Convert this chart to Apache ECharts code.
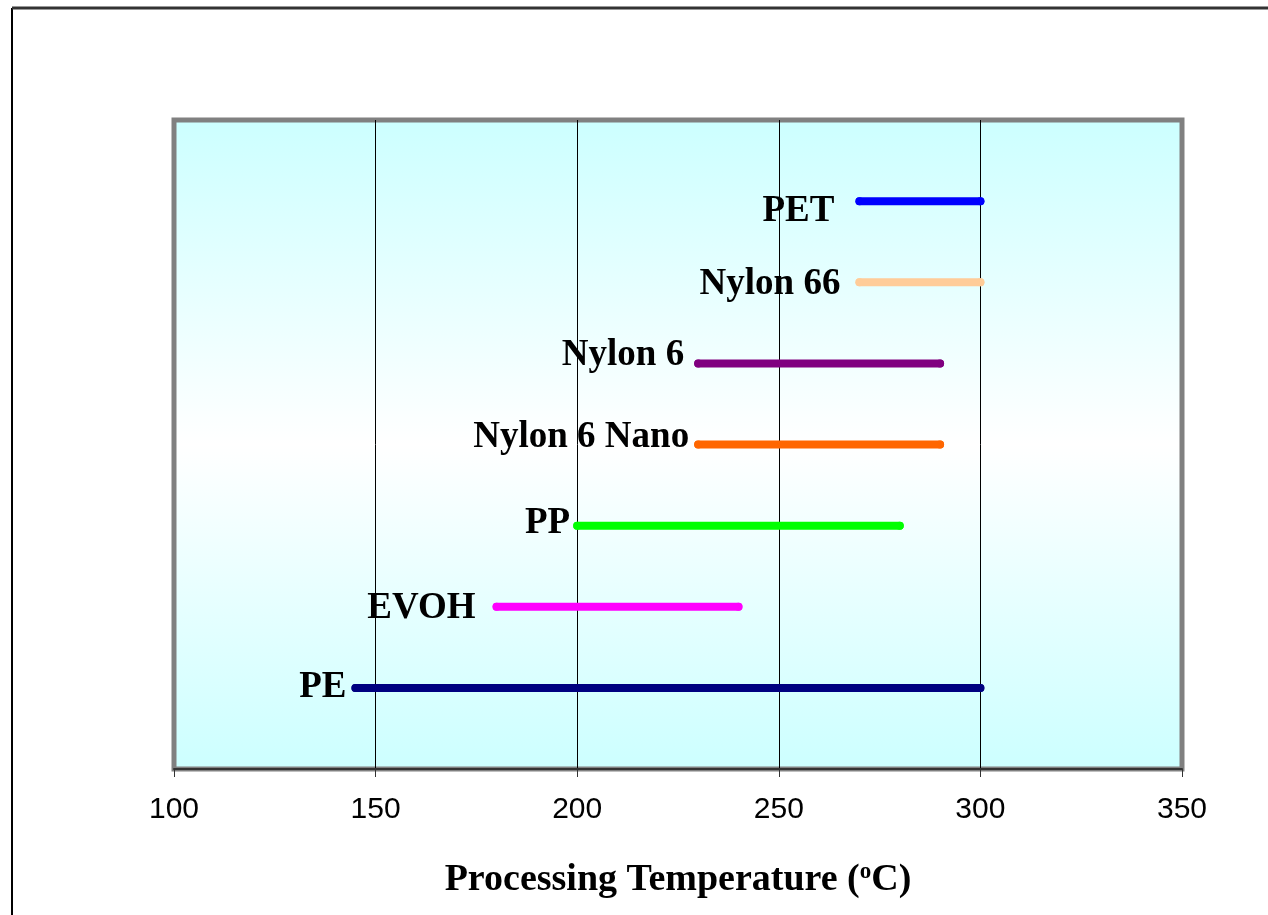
<!DOCTYPE html>
<html>
<head>
<meta charset="utf-8">
<title>Processing Temperature</title>
<script src="https://cdn.jsdelivr.net/npm/echarts@6/dist/echarts.min.js"></script>
<style>
  html, body { margin: 0; padding: 0; background: #fff; }
  #main { width: 1268px; height: 915px; }
</style>
</head>
<body>
<div id="main"></div>
<script>
// 材料及加工温度范围 (°C)
var materials = ['PE', 'EVOH', 'PP', 'Nylon 6 Nano', 'Nylon 6', 'Nylon 66', 'PET'];
var tempLow  = [145, 180, 200, 230, 230, 270, 270];
var tempHigh = [300, 240, 280, 290, 290, 300, 300];
var rowPos   = [1, 2, 3, 4, 5, 6, 7];
var lineColors = ['#000080', '#FF00FF', '#00FF00', '#FF6600', '#800080', '#FFCC99', '#0000FF'];
var xTicks = [100, 150, 200, 250, 300, 350];

// 标签微调（像原图那样手动拖过的标签）
var labelNudge = {
    'PE': [5, 0],
    'EVOH': [-7, 2],
    'PP': [7, -2],
    'Nylon 6 Nano': [5, -7],
    'Nylon 6': [0, -8],
    'Nylon 66': [-5, 2],
    'PET': [-11, 10]
};

var series = materials.map(function (name, i) {
    return {
        name: name,
        type: 'line',
        symbol: 'circle',
        symbolSize: 8,
        itemStyle: { color: lineColors[i] },
        lineStyle: { color: lineColors[i], width: 8, cap: 'round' },
        label: {
            show: true,
            position: 'left',
            distance: 10,
            offset: labelNudge[name],
            fontFamily: 'Liberation Serif',
            fontWeight: 'bold',
            fontSize: 37,
            color: '#000',
            formatter: function (p) {
                return p.dataIndex === 0 ? p.seriesName : '';
            }
        },
        emphasis: { disabled: true },
        data: [[tempLow[i], rowPos[i]], [tempHigh[i], rowPos[i]]]
    };
});

var option = {
    animation: false,
    grid: {
        left: 174,
        right: 86,
        top: 120,
        bottom: 146,
        show: true,
        borderColor: '#808080',
        borderWidth: 5,
        backgroundColor: {
            type: 'linear', x: 0, y: 0, x2: 0, y2: 1,
            colorStops: [
                { offset: 0, color: '#CCFFFF' },
                { offset: 0.5, color: '#FFFFFF' },
                { offset: 1, color: '#CCFFFF' }
            ]
        }
    },
    xAxis: {
        type: 'value',
        min: xTicks[0],
        max: xTicks[xTicks.length - 1],
        interval: 50,
        name: 'Processing Temperature ({sup|o}C)',
        nameLocation: 'middle',
        nameGap: 92,
        nameTextStyle: {
            fontFamily: 'Liberation Serif',
            fontWeight: 'bold',
            fontSize: 38,
            color: '#000',
            rich: {
                sup: {
                    fontFamily: 'Liberation Serif',
                    fontWeight: 'bold',
                    fontSize: 23,
                    verticalAlign: 'top',
                    padding: [0, 0, 16, 0]
                }
            }
        },
        axisLine: { show: true, lineStyle: { color: '#333', width: 2 } },
        axisTick: { show: true, length: 8, lineStyle: { color: '#333', width: 1 } },
        axisLabel: {
            margin: 26,
            fontFamily: 'Liberation Sans',
            fontSize: 30,
            color: '#000'
        },
        splitLine: {
            show: true,
            showMinLine: false,
            showMaxLine: false,
            lineStyle: { color: '#000', width: 1 }
        }
    },
    yAxis: {
        type: 'value',
        min: 0,
        max: 8,
        show: false
    },
    graphic: [
        { type: 'line', shape: { x1: 12, y1: 8, x2: 12, y2: 915 }, style: { stroke: '#000', lineWidth: 2 } },
        { type: 'line', shape: { x1: 12, y1: 8, x2: 1268, y2: 8 }, style: { stroke: '#333', lineWidth: 3 } }
    ],
    series: series
};

var myChart = echarts.init(document.getElementById('main'));
myChart.setOption(option);
</script>
</body>
</html>
